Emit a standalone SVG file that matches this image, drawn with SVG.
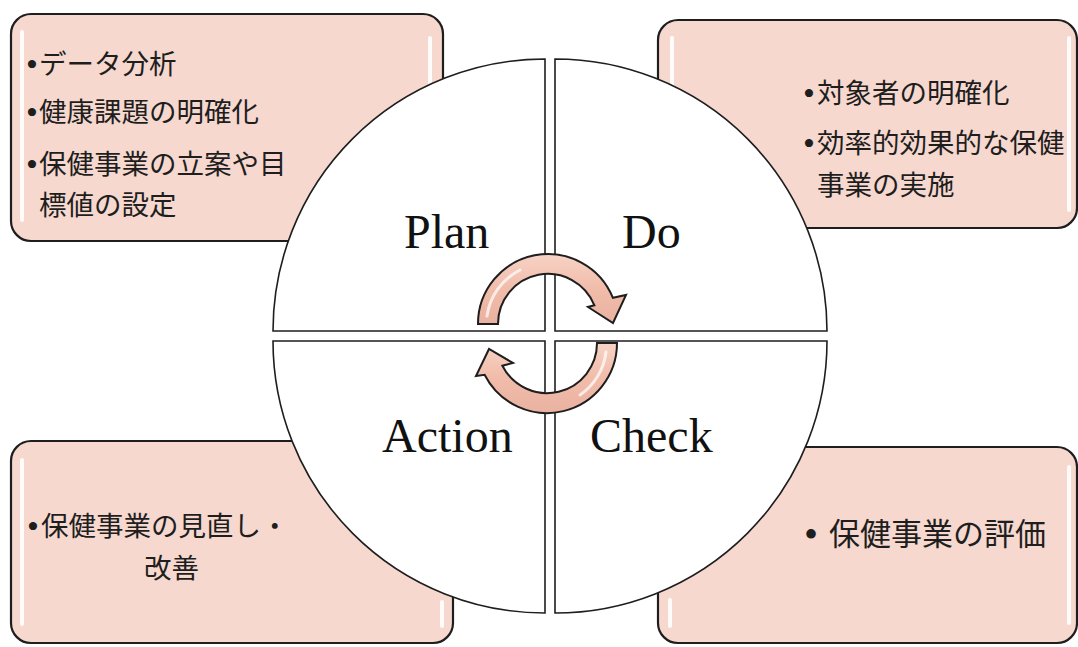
<svg xmlns="http://www.w3.org/2000/svg" width="1078" height="647" viewBox="0 0 1078 647">
<defs>
<linearGradient id="arrowGrad" x1="0" y1="0" x2="0" y2="1">
<stop offset="0" stop-color="#f7d3c6"/>
<stop offset="0.5" stop-color="#f1bcaa"/>
<stop offset="1" stop-color="#eab2a0"/>
</linearGradient>
</defs>
<style>
.box{fill:#f6d8cf;stroke:#1e1e1e;stroke-width:2.2}
.hl{fill:#ffffff;opacity:0.9}
.quad{fill:#ffffff;stroke:#1e1e1e;stroke-width:1.6}
.arrow{fill:url(#arrowGrad);stroke:#1e1e1e;stroke-width:2;stroke-linejoin:miter}
.jp{font-family:"Noto Sans CJK JP","Noto Sans CJK SC",sans-serif;font-size:27.5px;fill:#1e1e1e}
.bul{font-family:"Liberation Serif",serif;font-size:34px;fill:#1e1e1e}
.lbl{font-family:"Liberation Serif","Times New Roman",serif;font-size:48px;fill:#111111}
</style>
<g id="box-plan">
<rect class="box" x="11" y="14" width="432" height="227" rx="20"/>
<rect class="hl" x="20" y="30" width="4" height="192" rx="2"/>
<rect class="hl" x="428" y="36" width="4" height="60" rx="2"/>
</g>
<g id="box-do">
<rect class="box" x="658" y="20" width="419" height="208" rx="20"/>
<rect class="hl" x="670" y="36" width="4" height="176" rx="2"/>
<rect class="hl" x="1067" y="36" width="4" height="176" rx="2"/>
</g>
<g id="box-action">
<rect class="box" x="11" y="441" width="442" height="202" rx="20"/>
<rect class="hl" x="20" y="458" width="4" height="168" rx="2"/>
<rect class="hl" x="440" y="600" width="4" height="28" rx="2"/>
</g>
<g id="box-check">
<rect class="box" x="658" y="447" width="419" height="196" rx="20"/>
<rect class="hl" x="668" y="598" width="4" height="30" rx="2"/>
<rect class="hl" x="1067" y="465" width="4" height="160" rx="2"/>
</g>
<g id="quad-plan">
<path class="quad" d="M 545 331 L 273 331 A 272 272 0 0 1 545 59 Z"/>
<text class="lbl" x="404" y="248">Plan</text>
</g>
<g id="quad-do">
<path class="quad" d="M 555 331 L 555 59 A 272 272 0 0 1 827 331 Z"/>
<text class="lbl" x="622" y="248">Do</text>
</g>
<g id="quad-action">
<path class="quad" d="M 545 341 L 545 613 A 272 272 0 0 1 273 341 Z"/>
<text class="lbl" x="382" y="452">Action</text>
</g>
<g id="quad-check">
<path class="quad" d="M 555 341 L 827 341 A 272 272 0 0 1 555 613 Z"/>
<text class="lbl" x="590" y="452">Check</text>
</g>
<g id="connectors">
<path class="arrow" d="M 478 324 A 70 70 0 0 1 612.9 297.8 L 626 295 L 613 323 L 588 307 L 594.4 305.3 A 50 50 0 0 0 498 324 Z"/>
<path d="M 487 316 A 61 61 0 0 1 520 270" fill="none" stroke="#ffffff" stroke-width="3" stroke-linecap="round" opacity="0.7"/>
<path class="arrow" d="M 617 343 A 70 70 0 0 1 484.6 374.8 L 476 376 L 489 349 L 513 363 L 502.4 365.7 A 50 50 0 0 0 597 343 Z"/>
<path d="M 606 352 A 61 61 0 0 1 580 395" fill="none" stroke="#ffffff" stroke-width="3" stroke-linecap="round" opacity="0.7"/>
</g>
<g id="text-plan">
<text class="bul" x="26" y="76">•</text>
<text class="jp" x="39" y="74">データ分析</text>
<text class="bul" x="26" y="124">•</text>
<text class="jp" x="39" y="122">健康課題の明確化</text>
<text class="bul" x="26" y="176">•</text>
<text class="jp" x="39" y="174">保健事業の立案や目</text>
<text class="jp" x="39" y="215">標値の設定</text>
</g>
<g id="text-do">
<text class="bul" x="803" y="105">•</text>
<text class="jp" x="817" y="103">対象者の明確化</text>
<text class="bul" x="803" y="155">•</text>
<text class="jp" x="817" y="153">効率的効果的な保健</text>
<text class="jp" x="817" y="195">事業の実施</text>
</g>
<g id="text-action">
<text class="bul" x="27" y="538">•</text>
<text class="jp" x="41" y="536">保健事業の見直し・</text>
<text class="jp" x="144" y="578">改善</text>
</g>
<g id="text-check">
<text class="bul" x="804" y="548" style="font-size:40px">•</text>
<text class="jp" x="829" y="545" style="font-size:31px">保健事業の評価</text>
</g>
</svg>
